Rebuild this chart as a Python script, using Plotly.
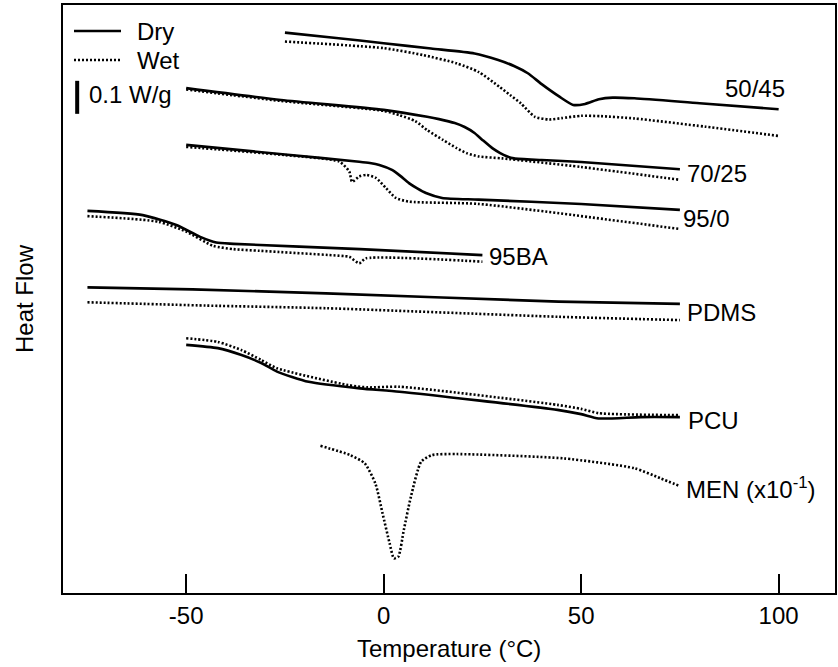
import plotly.graph_objects as go

# ---------------- data (temperature in °C, heat flow in W/g, curves offset) ----------------
t_5045_dry = [-25, -12, 0, 12, 23, 29, 33, 36.5, 40, 44.5, 48, 51, 54.5, 58, 63.5, 80, 100]
hf_5045_dry = [1.698, 1.682, 1.666, 1.650, 1.635, 1.615, 1.597, 1.575, 1.542, 1.504, 1.479, 1.482, 1.496, 1.501, 1.499, 1.484, 1.466]
t_5045_wet = [-25, 0, 10, 18.5, 24, 29.3, 32, 34.7, 38.3, 41.9, 45, 50, 55, 63.5, 81.5, 100]
hf_5045_wet = [1.671, 1.651, 1.630, 1.605, 1.579, 1.534, 1.509, 1.484, 1.443, 1.435, 1.439, 1.446, 1.445, 1.438, 1.413, 1.385]

t_7025_dry = [-50, -26, 0, 11, 14, 18, 20.5, 23, 25, 27.5, 29.5, 31, 33, 40, 50, 75]
hf_7025_dry = [1.530, 1.494, 1.464, 1.443, 1.436, 1.424, 1.412, 1.394, 1.373, 1.348, 1.333, 1.324, 1.317, 1.312, 1.306, 1.284]
t_7025_wet = [-50, -26, 0, 4, 8, 11, 15, 18.5, 21, 24, 30, 50, 75]
hf_7025_wet = [1.526, 1.491, 1.461, 1.448, 1.430, 1.403, 1.373, 1.348, 1.333, 1.323, 1.317, 1.291, 1.252]

t_950_dry = [-50, -25, -6.2, -3.5, -1.1, 2.1, 4.2, 6.4, 8.5, 10.7, 14.8, 24, 50, 75]
hf_950_dry = [1.358, 1.329, 1.307, 1.303, 1.297, 1.282, 1.264, 1.242, 1.226, 1.212, 1.197, 1.192, 1.179, 1.161]
t_950_wet = [-50, -25, -11.2, -8.7, -8, -6.2, -4.4, -2, 0.6, 3.1, 6.4, 24, 75]
hf_950_wet = [1.352, 1.327, 1.307, 1.277, 1.246, 1.262, 1.267, 1.258, 1.227, 1.197, 1.186, 1.179, 1.103]

t_95ba_dry = [-75, -61, -52.5, -46.6, -42.4, -38, -6, 25]
hf_95ba_dry = [1.158, 1.145, 1.115, 1.080, 1.062, 1.058, 1.042, 1.024]
t_95ba_wet = [-75, -57, -50, -43.2, -38, -31.4, -10, -8.7, -6.2, -4.5, 25]
hf_95ba_wet = [1.142, 1.125, 1.095, 1.052, 1.042, 1.037, 1.021, 1.019, 0.999, 1.014, 1.004]

t_pdms_dry = [-75, -48.4, -14.6, 44.3, 75]
hf_pdms_dry = [0.926, 0.920, 0.908, 0.883, 0.876]
t_pdms_wet = [-75, -45, -14.6, 44.3, 75]
hf_pdms_wet = [0.881, 0.871, 0.863, 0.837, 0.827]

t_pcu_dry = [-50, -42, -36, -31, -27, -19, -6, 4, 44, 50, 54.4, 65, 75]
hf_pcu_dry = [0.752, 0.742, 0.721, 0.697, 0.671, 0.640, 0.620, 0.610, 0.555, 0.542, 0.529, 0.533, 0.533]
t_pcu_wet = [-50, -42, -36, -31, -27, -9, -4, 4, 44, 50, 54.4, 75]
hf_pcu_wet = [0.772, 0.761, 0.736, 0.706, 0.681, 0.630, 0.623, 0.625, 0.570, 0.558, 0.545, 0.539]

t_men_wet = [-16, -8.5, -4.8, -2.1, -0.3, 1.5, 2.6, 3.7, 5.1, 6.9, 9.5, 12.2, 18.6, 45.5, 63.5, 70, 75]
hf_men_wet = [0.446, 0.418, 0.393, 0.332, 0.242, 0.151, 0.105, 0.110, 0.191, 0.292, 0.398, 0.418, 0.421, 0.408, 0.378, 0.348, 0.324]

x_ticks = [-50, 0, 50, 100]
x_tick_labels = ["-50", "0", "50", "100"]
scale_bar_value = 0.1  # W/g

series = [
    (t_5045_dry, hf_5045_dry, "dry"), (t_5045_wet, hf_5045_wet, "wet"),
    (t_7025_dry, hf_7025_dry, "dry"), (t_7025_wet, hf_7025_wet, "wet"),
    (t_950_dry, hf_950_dry, "dry"), (t_950_wet, hf_950_wet, "wet"),
    (t_95ba_dry, hf_95ba_dry, "dry"), (t_95ba_wet, hf_95ba_wet, "wet"),
    (t_pdms_dry, hf_pdms_dry, "dry"), (t_pdms_wet, hf_pdms_wet, "wet"),
    (t_pcu_dry, hf_pcu_dry, "dry"), (t_pcu_wet, hf_pcu_wet, "wet"),
    (t_men_wet, hf_men_wet, "wet"),
]

# ---------------- figure ----------------
FONT = "Liberation Sans, Arial, sans-serif"
DOT = "2px,2px"

fig = go.Figure()
for tx, hy, kind in series:
    fig.add_trace(go.Scatter(
        x=tx, y=hy, mode="lines", hoverinfo="skip", showlegend=False,
        line=dict(color="black", width=2.6,
                  dash="solid" if kind == "dry" else DOT,
                  shape="spline", smoothing=0.6),
    ))

# curve labels (data coords)
labels = [
    ("50/45", 86.0, 1.530),
    ("70/25", 76.3, 1.270),
    ("95/0", 75.4, 1.135),
    ("95BA", 26.1, 1.019),
    ("PDMS", 76.3, 0.849),
    ("PCU", 76.6, 0.524),
    ("MEN (x10<sup>-1</sup>)", 76.1, 0.318),
]
annotations = []
for txt, ax_, ay_ in labels:
    annotations.append(dict(x=ax_, y=ay_, xref="x", yref="y", text=txt, showarrow=False,
                            xanchor="left", yanchor="middle", font=dict(size=24, color="black", family=FONT)))

# legend texts (pixel offsets from top-left corner of plot area)
for txt, dx, dy in [("Dry", 72, -26), ("Wet", 72, -55), ("0.1 W/g", 24, -89)]:
    annotations.append(dict(x=0, y=1, xref="paper", yref="paper", text=txt, showarrow=False,
                            xanchor="left", yanchor="middle", xshift=dx, yshift=dy,
                            font=dict(size=24, color="black", family=FONT)))

# axis titles
annotations.append(dict(x=0.5, y=0, xref="paper", yref="paper", text="Temperature (°C)", showarrow=False,
                        xanchor="center", yanchor="middle", yshift=-55,
                        font=dict(size=24, color="black", family=FONT)))
annotations.append(dict(x=0, y=0.5, xref="paper", yref="paper", text="Heat Flow", showarrow=False,
                        textangle=-90, xanchor="center", yanchor="middle", xshift=-39,
                        font=dict(size=24, color="black", family=FONT)))

shapes = [
    dict(type="line", xref="paper", yref="paper", xsizemode="pixel", ysizemode="pixel",
         xanchor=0, yanchor=1, x0=11, x1=58, y0=-26, y1=-26,
         line=dict(color="black", width=2.6)),
    dict(type="line", xref="paper", yref="paper", xsizemode="pixel", ysizemode="pixel",
         xanchor=0, yanchor=1, x0=11, x1=58, y0=-55, y1=-55,
         line=dict(color="black", width=2.6, dash=DOT)),
    dict(type="line", xref="x", yref="y", x0=-77.6, x1=-77.6, y0=1.452, y1=1.452 + scale_bar_value,
         line=dict(color="black", width=4)),
]

fig.update_layout(
    width=838, height=667,
    margin=dict(l=63, r=1, t=5, b=74),
    paper_bgcolor="white", plot_bgcolor="white",
    font=dict(family=FONT, size=24, color="black"),
    hovermode=False,
    annotations=annotations,
    shapes=shapes,
    xaxis=dict(range=[-81.19, 114.27], tickvals=x_ticks, ticktext=x_tick_labels,
               ticks="inside", ticklen=19, tickwidth=2, tickcolor="black",
               showline=True, linecolor="black", linewidth=2, mirror=True,
               showgrid=False, zeroline=False, ticklabelstandoff=0,
               tickfont=dict(size=24, color="black", family=FONT)),
    yaxis=dict(range=[0, 1.7818], showticklabels=False, ticks="",
               showline=True, linecolor="black", linewidth=2, mirror=True,
               showgrid=False, zeroline=False),
)

fig.write_html("out.html")
